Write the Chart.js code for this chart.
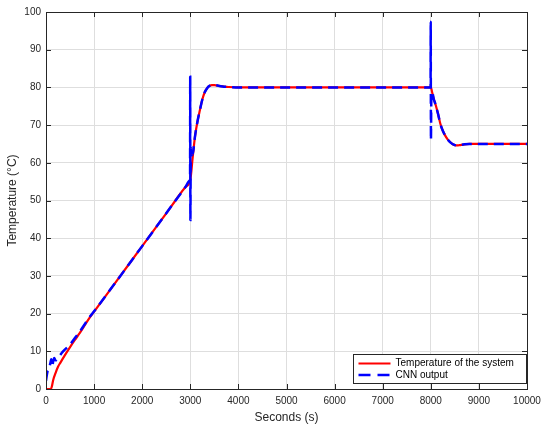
<!DOCTYPE html>
<html>
<head>
<meta charset="utf-8">
<script src="https://cdn.jsdelivr.net/npm/chart.js@4.4.0/dist/chart.umd.min.js"></script>
<style>
  body { margin: 0; background: #fff; }
  #chartContainer { width: 550px; height: 429px; position: relative; }
</style>
</head>
<body>
<div id="chartContainer"><canvas id="myChart"></canvas></div>
<script>
// Datos
const timeSystem = [0, 100, 120, 150, 200, 250, 300, 400, 500, 600, 700, 880, 1000, 1500, 2000, 2500, 2680, 2900, 3000,
    3050, 3100, 3150, 3200, 3250, 3300, 3350, 3400, 3450, 3500, 3600, 3700, 3800, 4000, 5000, 6000, 7000, 8000,
    8030, 8060, 8100, 8150, 8200, 8250, 8300, 8350, 8400, 8450, 8500, 8550, 8600, 8700, 8800, 9000, 10000];
const tempSystem = [0, 0, 0.6, 2.4, 4.3, 5.9, 7.0, 9.1, 11.1, 13.0, 14.8, 18.4, 20.5, 29.2, 37.9, 46.6, 49.8, 53.6, 55.5,
    61.5, 67.2, 71.0, 74.0, 76.8, 78.7, 79.8, 80.4, 80.6, 80.6, 80.4, 80.2, 80.1, 80.0, 80.0, 80.0, 80.0, 80.0,
    78.6, 77.0, 75.4, 73.0, 70.3, 68.5, 67.2, 66.2, 65.5, 65.0, 64.7, 64.6, 64.7, 64.9, 65.0, 65.0, 65.0];

const timeCnn = [0, 30, 60, 90, 110, 130, 150, 170, 200, 260, 350, 500, 600, 700, 880, 1000, 1500, 2000, 2500, 2680, 2900,
    2990, 2995, 2998, 3002, 3010, 3030, 3060, 3100, 3150, 3200, 3250, 3300, 3350, 3400, 3450, 3500, 3600, 3700, 3800,
    4000, 5000, 6000, 7000, 7995, 7998, 8003, 8010, 8030, 8060, 8100, 8150, 8200, 8250, 8300, 8350, 8400, 8450, 8500,
    8550, 8600, 8700, 8800, 9000, 10000];
const tempCnn = [2.2, 4.6, 5.2, 6.8, 7.9, 6.0, 7.4, 8.2, 7.6, 8.4, 9.9, 11.8, 13.5, 15.2, 18.6, 20.6, 29.2, 37.9, 46.6, 49.8, 53.6,
    55.3, 55.5, 82.8, 44.8, 64.0, 62.0, 63.0, 67.2, 71.0, 74.0, 76.8, 78.7, 79.8, 80.4, 80.6, 80.6, 80.4, 80.2, 80.1,
    80.0, 80.0, 80.0, 80.0, 80.0, 97.4, 66.0, 76.5, 78.6, 77.0, 75.4, 73.0, 70.3, 68.5, 67.2, 66.2, 65.5, 65.0, 64.7,
    64.6, 64.7, 64.9, 65.0, 65.0, 65.0];

const xTicks = [0, 1000, 2000, 3000, 4000, 5000, 6000, 7000, 8000, 9000, 10000];
const yTicks = [0, 10, 20, 30, 40, 50, 60, 70, 80, 90, 100];

const legendLabels = ['Temperature of the system', 'CNN output'];
const fontFamily = '"Liberation Sans", Arial, Helvetica, sans-serif';
const axisColor = '#262626';

function toPoints(xs, ys) {
    return xs.map((x, i) => ({x: x, y: ys[i]}));
}

// Caja de ejes estilo MATLAB con marcas hacia dentro y leyenda
const boxPlugin = {
    id: 'boxPlugin',
    afterDraw(chart) {
        const c = chart.ctx;
        const a = chart.chartArea;
        const xs = chart.scales.x;
        const ys = chart.scales.y;
        c.save();
        c.strokeStyle = axisColor;
        c.lineWidth = 1;
        c.strokeRect(Math.round(a.left) + 0.5, Math.round(a.top) + 0.5,
            Math.round(a.right - a.left), Math.round(a.bottom - a.top));
        c.beginPath();
        xTicks.forEach(v => {
            const px = Math.round(xs.getPixelForValue(v)) + 0.5;
            c.moveTo(px, a.bottom); c.lineTo(px, a.bottom - 5);
            c.moveTo(px, a.top); c.lineTo(px, a.top + 5);
        });
        yTicks.forEach(v => {
            const py = Math.round(ys.getPixelForValue(v)) + 0.5;
            c.moveTo(a.left, py); c.lineTo(a.left + 5, py);
            c.moveTo(a.right, py); c.lineTo(a.right - 5, py);
        });
        c.stroke();

        // leyenda
        const w = 173, h = 29;
        const lx = Math.round(a.right - 174) + 0.5;
        const ly = Math.round(a.bottom - 35) + 0.5;
        c.fillStyle = '#fff';
        c.fillRect(lx, ly, w, h);
        c.strokeStyle = axisColor;
        c.strokeRect(lx, ly, w, h);
        c.lineWidth = 2;
        c.strokeStyle = '#ff0000';
        c.beginPath();
        c.moveTo(lx + 5, ly + 9); c.lineTo(lx + 37, ly + 9);
        c.stroke();
        c.strokeStyle = '#0000ff';
        c.lineWidth = 2.5;
        c.setLineDash([12, 7]);
        c.beginPath();
        c.moveTo(lx + 5, ly + 20.5); c.lineTo(lx + 37, ly + 20.5);
        c.stroke();
        c.setLineDash([]);
        c.fillStyle = '#000';
        c.font = '10px ' + fontFamily;
        c.textBaseline = 'middle';
        c.fillText(legendLabels[0], lx + 42, ly + 9);
        c.fillText(legendLabels[1], lx + 42, ly + 20.5);
        c.restore();
    }
};

let ctx = document.getElementById('myChart');
let chart = new Chart(ctx, {
    type: 'line',
    data: {
        datasets: [{
            label: legendLabels[1],
            data: toPoints(timeCnn, tempCnn),
            borderColor: '#0000ff',
            borderWidth: 2.5,
            borderDash: [10, 6],
            pointRadius: 0,
            fill: false,
            cubicInterpolationMode: 'monotone',
            order: 0
        }, {
            label: legendLabels[0],
            data: toPoints(timeSystem, tempSystem),
            borderColor: '#ff0000',
            borderWidth: 2.2,
            pointRadius: 0,
            fill: false,
            cubicInterpolationMode: 'monotone',
            order: 1
        }]
    },
    options: {
        responsive: true,
        maintainAspectRatio: false,
        animation: false,
        layout: {padding: {top: 12, right: 23, left: 0, bottom: 0}},
        plugins: {legend: {display: false}, tooltip: {enabled: false}},
        scales: {
            x: {
                type: 'linear',
                min: 0,
                max: 10000,
                afterBuildTicks: s => { s.ticks = xTicks.map(v => ({value: v})); },
                afterFit: s => { s.height = 40; },
                grid: {color: '#dedede', drawTicks: false},
                border: {display: false},
                ticks: {
                    color: axisColor,
                    padding: 6,
                    maxRotation: 0,
                    autoSkip: false,
                    font: {family: fontFamily, size: 10},
                    callback: v => String(v)
                },
                title: {
                    display: true,
                    text: 'Seconds (s)',
                    color: axisColor,
                    font: {family: fontFamily, size: 12},
                    padding: {top: 0, bottom: 4}
                }
            },
            y: {
                min: 0,
                max: 100,
                afterBuildTicks: s => { s.ticks = yTicks.map(v => ({value: v})); },
                afterFit: s => { s.width = 46; },
                grid: {color: '#dedede', drawTicks: false},
                border: {display: false},
                ticks: {
                    color: axisColor,
                    padding: 5,
                    autoSkip: false,
                    font: {family: fontFamily, size: 10}
                },
                title: {
                    display: true,
                    text: 'Temperature (°C)',
                    color: axisColor,
                    font: {family: fontFamily, size: 12},
                    padding: {top: 5, bottom: 0}
                }
            }
        }
    },
    plugins: [boxPlugin]
});
</script>
</body>
</html>
